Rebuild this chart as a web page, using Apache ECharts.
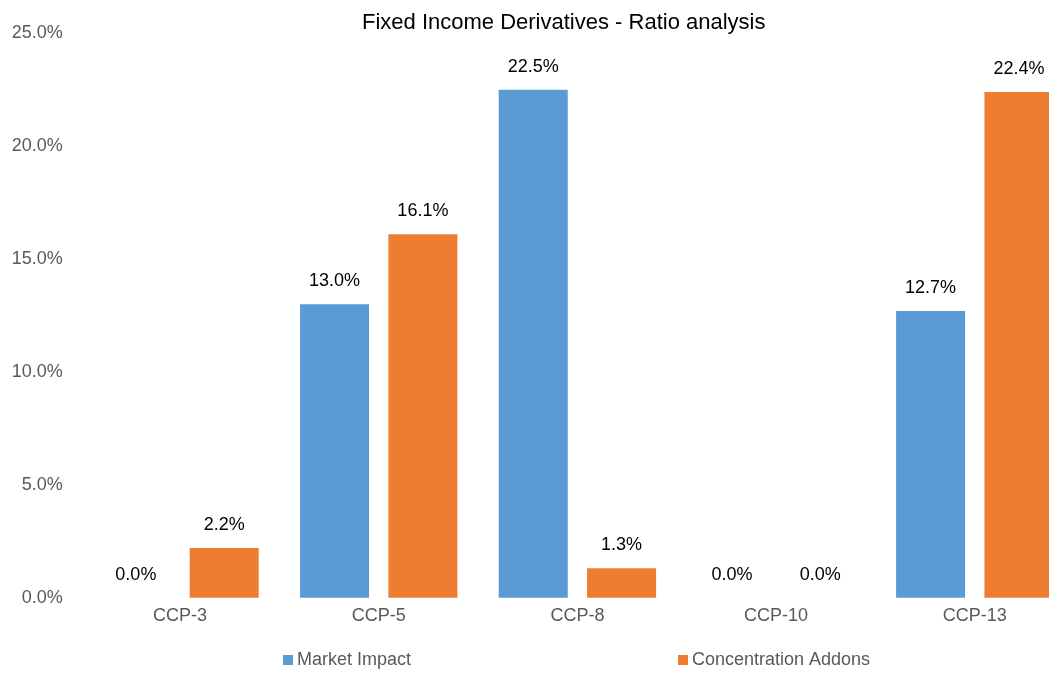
<!DOCTYPE html>
<html>
<head>
<meta charset="utf-8">
<script src="https://cdn.jsdelivr.net/npm/echarts@6/dist/echarts.min.js"></script>
<style>html,body{margin:0;padding:0;background:#fff}#c{width:1049px;height:673px}</style>
</head>
<body>
<div id="c"></div>
<script>
const categories = ['CCP-3', 'CCP-5', 'CCP-8', 'CCP-10', 'CCP-13'];
const marketImpact = [0.0, 13.0, 22.5, 0.0, 12.7];
const concentrationAddons = [2.2, 16.1, 1.3, 0.0, 22.4];
const yTicks = [0, 5, 10, 15, 20, 25];
const seriesNames = ['Market Impact', 'Concentration Addons'];

const FONT = '"Liberation Sans", Arial, sans-serif';
const chart = echarts.init(document.getElementById('c'), null, {renderer: 'canvas'});
const pct = v => v.toFixed(1) + '%';
const labelCfg = {
  show: true, position: 'top', distance: 14,
  color: '#000', fontSize: 18, fontFamily: FONT,
  formatter: p => pct(p.value)
};
chart.setOption({
  animation: false,
  backgroundColor: '#fff',
  title: {
    text: 'Fixed Income Derivatives - Ratio analysis',
    left: 357, top: 7,
    textStyle: {color: '#000', fontSize: 22, fontWeight: 'normal', fontFamily: FONT}
  },
  legend: [
    {data: [seriesNames[0]], left: 283, top: 651, padding: 0, icon: 'rect', itemWidth: 10, itemHeight: 10,
     textStyle: {color: '#595959', fontSize: 18, fontFamily: FONT, padding: [0,0,0,-1]}},
    {data: [seriesNames[1]], left: 678, top: 651, padding: 0, icon: 'rect', itemWidth: 10, itemHeight: 10,
     textStyle: {color: '#595959', fontSize: 18, fontFamily: FONT, padding: [0,0,0,-1]}}
  ],
  grid: {left: 80.7, width: 993.4, top: 33.3, height: 564.4, containLabel: false, outerBoundsMode: 'none'},
  xAxis: {
    type: 'category', data: categories,
    axisLine: {show: false}, axisTick: {show: false},
    axisLabel: {color: '#595959', fontSize: 18, fontFamily: FONT, margin: 9}
  },
  yAxis: {
    type: 'value', min: yTicks[0], max: yTicks[yTicks.length-1], interval: 5,
    splitLine: {show: false}, axisLine: {show: false}, axisTick: {show: false},
    axisLabel: {color: '#595959', fontSize: 18, fontFamily: FONT, margin: 18, formatter: v => pct(v)}
  },
  series: [
    {name: seriesNames[0], type: 'bar', data: marketImpact, itemStyle: {color: '#5B9BD5'},
     barGap: '28%', barCategoryGap: '20.8%', label: labelCfg},
    {name: seriesNames[1], type: 'bar', data: concentrationAddons, itemStyle: {color: '#ED7D31'},
     barGap: '28%', barCategoryGap: '20.8%', label: labelCfg}
  ]
});
</script>
</body>
</html>
